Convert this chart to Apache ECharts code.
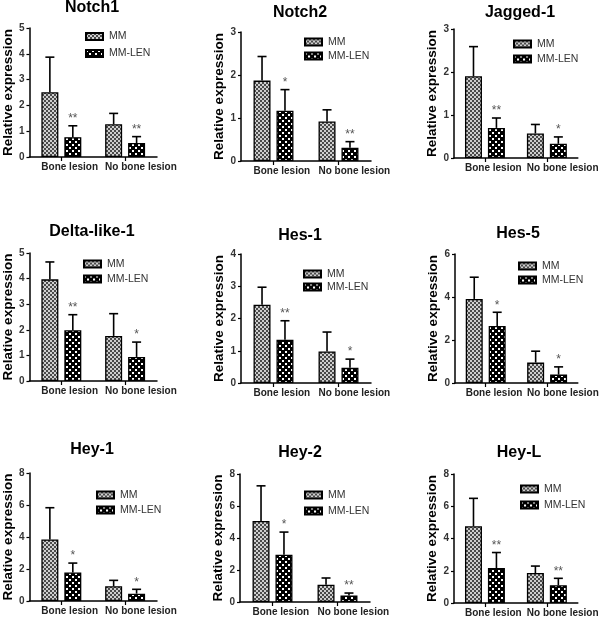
<!DOCTYPE html>
<html><head><meta charset="utf-8">
<script src="https://cdn.jsdelivr.net/npm/echarts@6/dist/echarts.min.js"></script>
<style>html,body{margin:0;padding:0;background:#fff}#c{width:600px;height:621px}</style>
</head><body><div id="c"></div><script>
// ---- data ----
const genes = ['Notch1','Notch2','Jagged-1','Delta-like-1','Hes-1','Hes-5','Hey-1','Hey-2','Hey-L'];
const categories = ['Bone lesion','No bone lesion'];
const seriesNames = ['MM','MM-LEN'];
const mmMean  = [[2.51,1.27],[1.87,0.92],[1.90,0.57],[3.97,1.76],[2.43,0.98],[3.91,0.95],[3.85,0.92],[5.07,1.08],[4.76,1.86]];
const mmSD    = [[1.36,0.42],[0.56,0.27],[0.69,0.21],[0.68,0.87],[0.54,0.60],[1.01,0.53],[1.98,0.37],[2.19,0.42],[1.73,0.43]];
const lenMean = [[0.77,0.54],[1.17,0.31],[0.70,0.33],[1.98,0.94],[1.34,0.47],[2.65,0.39],[1.78,0.46],[2.95,0.40],[2.17,1.10]];
const lenSD   = [[0.44,0.25],[0.49,0.14],[0.23,0.16],[0.61,0.58],[0.59,0.27],[0.64,0.36],[0.59,0.27],[1.42,0.16],[0.96,0.43]];
const lenStars = [['**','**'],['*','**'],['**','*'],['**','*'],['**','*'],['*','*'],['*','*'],['*','**'],['**','**']];
const yMax  = [5,3,3,5,4,6,8,8,8];
const yStep = [1,1,1,1,1,2,2,2,2];

// ---- layout (pixels) ----
const panels = [
  {left:27,  top:28,  h:129, tx:92,  ty:7,   lx:85,  ly:30.5, lg:5},
  {left:241, top:32,  h:129, tx:300, ty:12,  lx:304, ly:36,   lg:2},
  {left:454, top:29,  h:129, tx:520, ty:12,  lx:513, ly:38,   lg:3},
  {left:27,  top:253, h:128, tx:92,  ty:231, lx:83,  ly:258,  lg:3},
  {left:241, top:254, h:129, tx:300, ty:235, lx:303, ly:268,  lg:1},
  {left:455, top:254, h:129, tx:518, ty:233, lx:518, ly:260,  lg:2},
  {left:27,  top:473, h:128, tx:92,  ty:449, lx:96,  ly:489,  lg:3},
  {left:240, top:474, h:128, tx:300, ty:452, lx:304, ly:489,  lg:4},
  {left:454, top:474, h:129, tx:519, ty:452, lx:520, ly:483,  lg:4}
];
const BAR_W = 17, BAR_GAP = 0.35, BAR_OFF = (BAR_W + BAR_W*BAR_GAP)/2, CAP = 4.5;
const FONT = '"Liberation Sans", Arial, sans-serif';

function makePattern(size, draw){
  const c = document.createElement('canvas'); c.width = c.height = size;
  draw(c.getContext('2d')); return {image:c, repeat:'repeat'};
}
const mmFill = makePattern(4, g=>{g.fillStyle='#cfcfcf';g.fillRect(0,0,4,4);g.fillStyle='#4a4a4a';g.fillRect(0,0,2,2);g.fillRect(2,2,2,2);});
const lenFill = makePattern(6, g=>{g.fillStyle='#000';g.fillRect(0,0,6,6);g.fillStyle='#fff';g.fillRect(0,0,2,2);g.fillRect(3,3,2,2);});

const grid=[], xAxis=[], yAxis=[], series=[], legend=[], graphic=[];
genes.forEach((gene,i)=>{
  const P = panels[i];
  grid.push({left:P.left, top:P.top, width:130, height:P.h});
  xAxis.push({type:'category', gridIndex:i, data:categories,
    axisLine:{lineStyle:{color:'#000',width:1.5}},
    axisTick:{show:true, alignWithLabel:true, length:4, lineStyle:{color:'#000',width:1.2}},
    axisLabel:{interval:0, align:'left', padding:[0,0,0,-20], fontSize:10, fontWeight:'bold', color:'#222', margin:5, fontFamily:FONT}
  });
  yAxis.push({type:'value', gridIndex:i, min:0, max:yMax[i], interval:yStep[i],
    axisLine:{show:true, lineStyle:{color:'#000',width:1.5}},
    axisTick:{show:true, length:3, lineStyle:{color:'#000',width:1.2}},
    splitLine:{show:false},
    axisLabel:{fontSize:10, fontWeight:'bold', color:'#333', margin:5, fontFamily:FONT},
    name:'Relative expression', nameLocation:'middle', nameGap:12,
    nameTextStyle:{fontSize:13.5, fontWeight:'bold', color:'#000', fontFamily:FONT}
  });
  series.push({type:'bar', name:seriesNames[0], xAxisIndex:i, yAxisIndex:i, data:mmMean[i],
    barWidth:BAR_W, barGap:(BAR_GAP*100)+'%',
    itemStyle:{color:mmFill, borderColor:'#000', borderWidth:1.3}});
  series.push({type:'bar', name:seriesNames[1], xAxisIndex:i, yAxisIndex:i, data:lenMean[i],
    barWidth:BAR_W, barGap:(BAR_GAP*100)+'%',
    itemStyle:{color:lenFill, borderColor:'#000', borderWidth:1.3}});
  const errData = [];
  categories.forEach((c,k)=>{
    errData.push([k, mmMean[i][k], mmSD[i][k], 0]);
    errData.push([k, lenMean[i][k], lenSD[i][k], 1]);
  });
  series.push({type:'custom', xAxisIndex:i, yAxisIndex:i, z:5, silent:true,
    encode:{x:0, y:1}, data:errData,
    renderItem:(params, api)=>{
      const k = api.value(0), m = api.value(1), sd = api.value(2), side = api.value(3);
      const p0 = api.coord([k, m]), p1 = api.coord([k, m+sd]);
      const x = p0[0] + (side===0 ? -BAR_OFF : BAR_OFF);
      const ch = [
        {type:'line', shape:{x1:x,y1:p0[1],x2:x,y2:p1[1]}, style:{stroke:'#000',lineWidth:1.6}},
        {type:'line', shape:{x1:x-CAP,y1:p1[1],x2:x+CAP,y2:p1[1]}, style:{stroke:'#000',lineWidth:1.6}}
      ];
      if (side===1) {
        ch.push({type:'text', style:{text:lenStars[i][k], x:x, y:p1[1]-1, textAlign:'center', textVerticalAlign:'bottom',
          fill:'#555', font:'12px '+FONT}});
      }
      return {type:'group', children:ch};
    }
  });
  legend.push({data:seriesNames, orient:'vertical', left:P.lx, top:P.ly, itemWidth:17, itemHeight:7, itemGap:P.lg,
    icon:'rect', selectedMode:false, padding:0,
    textStyle:{fontSize:10.5, color:'#333', lineHeight:12, fontFamily:FONT, padding:[0,0,0,1]}});
  graphic.push({type:'text', x:P.tx, y:P.ty+1, silent:true,
    style:{text:gene, textAlign:'center', textVerticalAlign:'middle', font:'bold 16px '+FONT, fill:'#000'}});
});

const chart = echarts.init(document.getElementById('c'), null, {renderer:'canvas'});
chart.setOption({animation:false, backgroundColor:'#fff', textStyle:{fontFamily:FONT},
  grid, xAxis, yAxis, series, legend, graphic});
</script></body></html>
